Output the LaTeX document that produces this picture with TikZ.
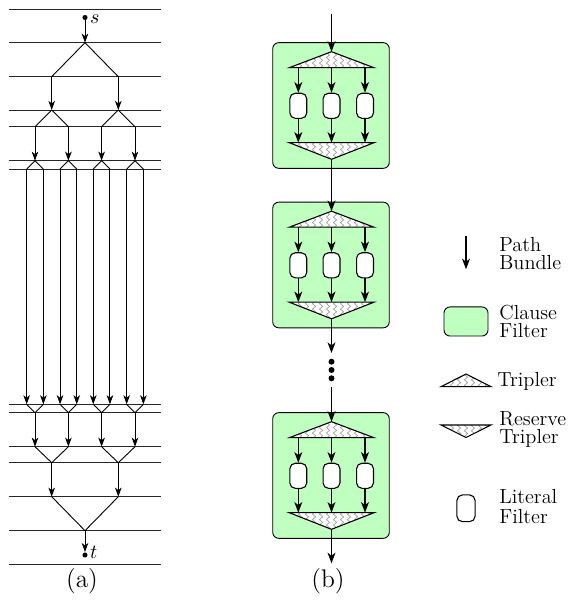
\documentclass[tikz,border=0pt]{standalone}
\usetikzlibrary{arrows.meta,decorations.pathmorphing}
\definecolor{cfgreen}{RGB}{191,255,191}
\tikzset{
  hline/.style={line width=0.45pt, black!85},
  tree/.style={line width=0.5pt},
  tarr/.style={line width=0.5pt, -{Stealth[length=5pt,width=3.6pt,inset=1.4pt]}},
  barr/.style={line width=0.85pt, -{Stealth[length=5.8pt,width=4.3pt,inset=1.6pt]}},
  clausebox/.style={draw, fill=cfgreen, rounded corners=3.3pt, line width=0.5pt, inner sep=0pt},
  litbox/.style={draw, fill=white, rounded corners=3pt, line width=0.6pt, inner sep=0pt},
  tripline/.style={line width=0.6pt, line join=miter},
  wave/.style={gray!80, line width=0.35pt, decorate, decoration={snake, amplitude=0.9pt, segment length=3pt}},
  dotnode/.style={circle, fill=black, inner sep=0pt, minimum size=2.8pt},
  lbl/.style={align=left, anchor=west, inner sep=0pt, font=\fontsize{11.2}{9.9}\selectfont},
  captxt/.style={inner sep=0pt, font=\fontsize{14}{17}\selectfont},
  endlbl/.style={anchor=west, inner sep=1pt, font=\fontsize{11.2}{13}\selectfont},
}
\begin{document}
\begin{tikzpicture}[x=0.55pt,y=-0.55pt]
\useasboundingbox (0,0) rectangle (569,607);
% ---------------- (a) ----------------
\foreach \yy in {9.3,42.7,76.7,110,126.7,160.7,169,404.3,412.7,446.7,462.7,496.7,530.7,564}
  \draw[hline] (9.3,\yy) -- (161,\yy);
\node[dotnode] (s) at (85,17.5) {};
\node[endlbl] (slab) at ([yshift=-1pt]s.east) {$s$};
\node[dotnode] (t) at (85,555) {};
\node[endlbl] (tlab) at ([yshift=1.5pt]t.east) {$t$};
\coordinate (a0) at (85,42.7);
\coordinate (c0) at (85,530.7);
\draw[tarr] (s) -- (a0);
\draw[tarr] (c0) -- (t);
\foreach \i/\xa in {1/51.7,2/118.3}{
  \coordinate (a1-\i) at (\xa,76.7);
  \coordinate (b1-\i) at (\xa,110);
  \coordinate (c1-\i) at (\xa,462.7);
  \coordinate (d1-\i) at (\xa,496.7);
  \draw[tree] (a0) -- (a1-\i);
  \draw[tarr] (a1-\i) -- (b1-\i);
  \draw[tarr] (c1-\i) -- (d1-\i);
  \draw[tree] (d1-\i) -- (c0);
  \foreach \j/\dx in {1/-16.7,2/16.7}{
    \coordinate (a2-\i\j) at ({\xa+\dx},126.7);
    \coordinate (b2-\i\j) at ({\xa+\dx},160.7);
    \coordinate (c2-\i\j) at ({\xa+\dx},412.7);
    \coordinate (d2-\i\j) at ({\xa+\dx},446.7);
    \draw[tree] (b1-\i) -- (a2-\i\j);
    \draw[tarr] (a2-\i\j) -- (b2-\i\j);
    \draw[tarr] (c2-\i\j) -- (d2-\i\j);
    \draw[tree] (d2-\i\j) -- (c1-\i);
    \foreach \k/\ex in {1/-8.35,2/8.35}{
      \coordinate (a3-\i\j\k) at ({\xa+\dx+\ex},169);
      \coordinate (b3-\i\j\k) at ({\xa+\dx+\ex},404.3);
      \draw[tree] (b2-\i\j) -- (a3-\i\j\k);
      \draw[tarr] (a3-\i\j\k) -- (b3-\i\j\k);
      \draw[tree] (b3-\i\j\k) -- (c2-\i\j);
    }
  }
}
\node[captxt] (capa) at (82,581) {(a)};
% ---------------- (b) ----------------
\foreach \T/\k in {42.7/1,202.2/2,412.7/3}{
  \node[clausebox, minimum width=64.1pt, minimum height=69.1pt] (cf\k) at (331,{\T+62.8}) {};
  \coordinate (ta\k) at (331.5,{\T+9});
  \coordinate (tl\k) at (289.3,{\T+25});
  \coordinate (tr\k) at (374,{\T+25});
  \coordinate (ra\k) at (331.5,{\T+116.6});
  \coordinate (rl\k) at (289.3,{\T+100});
  \coordinate (rr\k) at (374,{\T+100});
  \fill[white] (ta\k) -- (tl\k) -- (tr\k) -- cycle;
  \fill[white] (ra\k) -- (rl\k) -- (rr\k) -- cycle;
  \begin{scope}
    \clip (ta\k) -- (tl\k) -- (tr\k) -- cycle;
    \foreach \xx in {293,300,...,373} \draw[wave] (\xx,{\T+5}) -- (\xx,{\T+28});
  \end{scope}
  \begin{scope}
    \clip (ra\k) -- (rl\k) -- (rr\k) -- cycle;
    \foreach \xx in {293,300,...,373} \draw[wave] (\xx,{\T+97}) -- (\xx,{\T+120});
  \end{scope}
  \draw[tripline] (ta\k) -- (tl\k) -- (tr\k) -- cycle;
  \draw[tripline] (ra\k) -- (rl\k) -- (rr\k) -- cycle;
  \foreach \xx/\j in {298.3/1,331.5/2,365/3}{
    \node[litbox, minimum width=9.3pt, minimum height=13.8pt] (lf\k\j) at (\xx,{\T+63.1}) {};
    \coordinate (tb\k\j) at (\xx,{\T+25});
    \coordinate (rb\k\j) at (\xx,{\T+100});
    \draw[barr] (tb\k\j) -- (lf\k\j);
    \draw[barr] (lf\k\j) -- (rb\k\j);
  }
}
\coordinate (btop) at (331.5,14);
\coordinate (bend) at (331.5,353);
\coordinate (bres) at (331.5,386.7);
\coordinate (bbot) at (331.5,563.3);
\node[dotnode, minimum size=3.3pt] (dt1) at (331.5,361.7) {};
\node[dotnode, minimum size=3.3pt] (dt2) at (331.5,370) {};
\node[dotnode, minimum size=3.3pt] (dt3) at (331.5,378.3) {};
\draw[barr] (btop) -- (ta1);
\draw[barr] (ra1) -- (ta2);
\draw[barr] (ra2) -- (bend);
\draw[barr] (bres) -- (ta3);
\draw[barr] (ra3) -- (bbot);
\node[captxt] (capb) at (328,581) {(b)};
% ---------------- legend ----------------
\coordinate (lpa) at (466,236);
\coordinate (lpb) at (466,269.3);
\draw[barr] (lpa) -- (lpb);
\node[lbl] (lpt) at (499,254) {Path\\Bundle};
\node[clausebox, minimum width=24.2pt, minimum height=16pt] (lcf) at (466,321.5) {};
\node[lbl] (lct) at (499,321) {Clause\\Filter};
\coordinate (lta) at (466,374);
\coordinate (ltl) at (441,386.7);
\coordinate (ltr) at (491,386.7);
\fill[white] (lta) -- (ltl) -- (ltr) -- cycle;
\begin{scope}
  \clip (lta) -- (ltl) -- (ltr) -- cycle;
  \foreach \xx in {445,452,...,490} \draw[wave] (\xx,370) -- (\xx,390);
\end{scope}
\draw[tripline] (lta) -- (ltl) -- (ltr) -- cycle;
\node[lbl] (ltt) at (497,381) {Tripler};
\coordinate (lra) at (466,437.5);
\coordinate (lrl) at (441,425);
\coordinate (lrr) at (491,425);
\fill[white] (lra) -- (lrl) -- (lrr) -- cycle;
\begin{scope}
  \clip (lra) -- (lrl) -- (lrr) -- cycle;
  \foreach \xx in {445,452,...,490} \draw[wave] (\xx,421) -- (\xx,441);
\end{scope}
\draw[tripline] (lra) -- (lrl) -- (lrr) -- cycle;
\node[lbl] (lrt) at (499,430) {Reserve\\Tripler};
\node[litbox, minimum width=10pt, minimum height=14.7pt] (llf) at (466,508.3) {};
\node[lbl, font=\fontsize{11.2}{11}\selectfont] (llt) at (499,507) {Literal\\Filter};
\end{tikzpicture}
\end{document}
